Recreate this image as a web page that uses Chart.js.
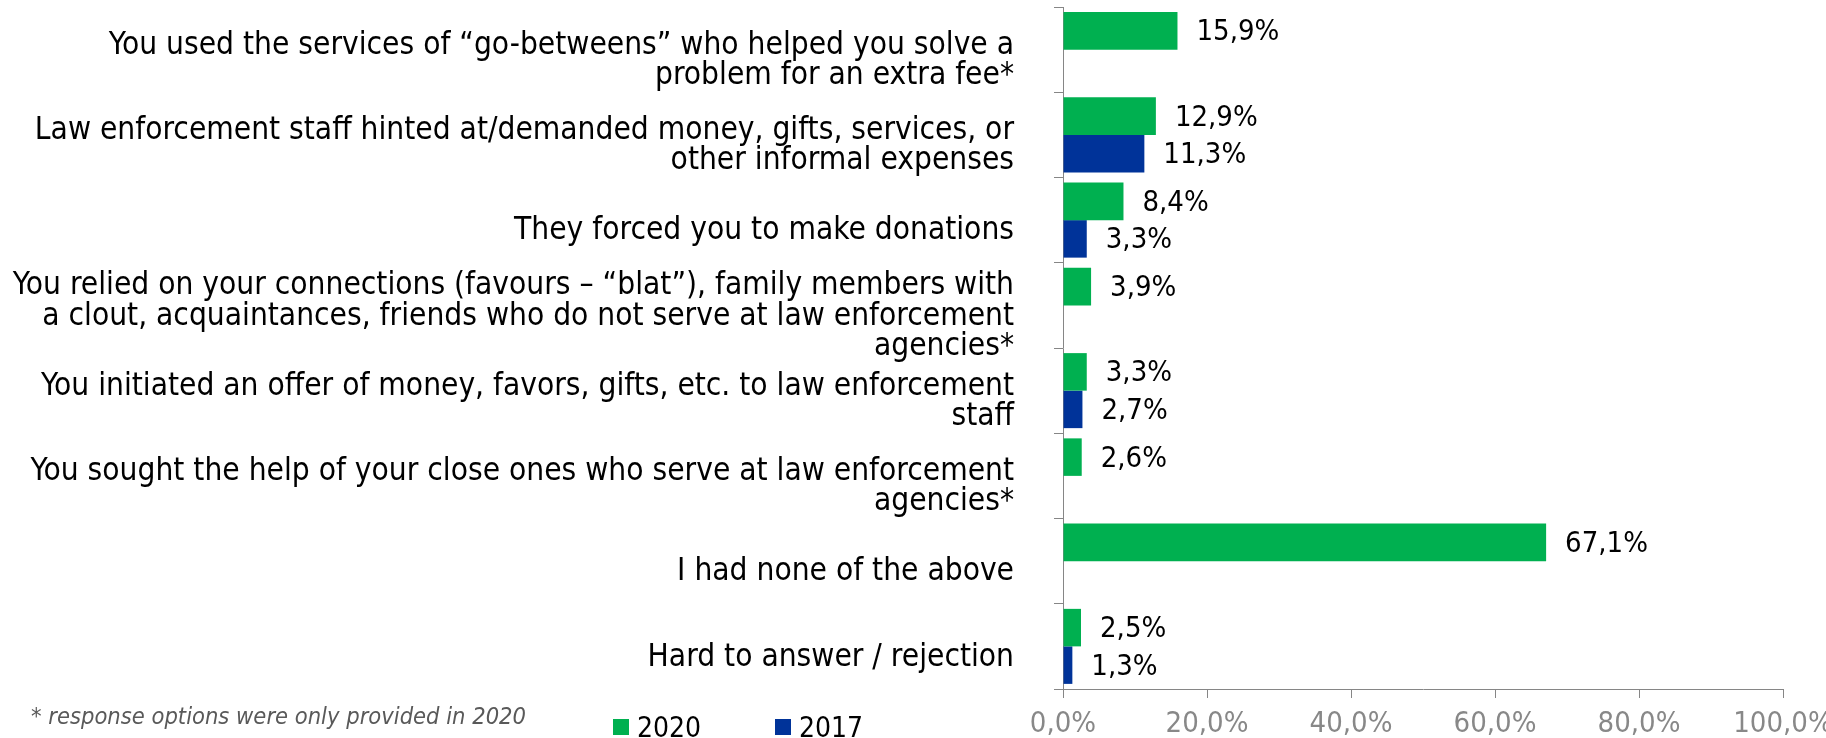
<!DOCTYPE html>
<html>
<head>
<meta charset="utf-8">
<script src="https://cdn.jsdelivr.net/npm/chart.js@4/dist/chart.umd.min.js"></script>
<style>
  html, body { margin: 0; padding: 0; background: #fff; overflow: hidden; }
  #wrap { position: relative; width: 1826px; height: 738px; }
  #chart { position: absolute; left: 0; top: 0; }
  .note {
    position: absolute; left: 31px; top: 702px;
    font: italic 23.5px "DejaVu Sans Condensed", "DejaVu Sans", sans-serif;
    color: #595959; white-space: nowrap;
  }
  .legend-item {
    position: absolute; top: 710px; height: 34px; display: flex; align-items: center;
    font: 28px "DejaVu Sans Condensed", "DejaVu Sans", sans-serif; color: #000;
  }
  .legend-item i { display: inline-block; width: 16px; height: 16px; margin-right: 8px; }
</style>
</head>
<body>
<div id="wrap">
  <canvas id="chart" width="1826" height="738"></canvas>
  <div class="note">* response options were only provided in 2020</div>
</div>
<script>
// Answers, top to bottom; each inner array is one wrapped label
const categories = [
  ["You used the services of \u201cgo-betweens\u201d who helped you solve a", "problem for an extra fee*"],
  ["Law enforcement staff hinted at/demanded money, gifts, services, or", "other informal expenses"],
  "They forced you to make donations",
  ["You relied on your connections (favours \u2013 \u201cblat\u201d), family members with", "a clout, acquaintances, friends who do not serve at law enforcement", "agencies*"],
  ["You initiated an offer of money, favors, gifts, etc. to law enforcement", "staff"],
  ["You sought the help of your close ones who serve at law enforcement", "agencies*"],
  "I had none of the above",
  "Hard to answer / rejection",
];

// Share of respondents, %; null where the option was not asked that year
const values2020 = [15.9, 12.9, 8.4, 3.9, 3.3, 2.6, 67.1, 2.5];
const values2017 = [null, 11.3, 3.3, null, 2.7, null, null, 1.3];

const seriesNames = ["2020", "2017"];
const seriesColors = ["#00b050", "#003399"];

const xTicks = [0, 20, 40, 60, 80, 100];

const FONT = "'DejaVu Sans Condensed', 'DejaVu Sans', sans-serif";
const AXIS_COLOR = "#868686";

const pct = (v) => v.toFixed(1).replace(".", ",") + "%";

// value text to the right of each bar
const barValues = {
  id: "barValues",
  afterDatasetsDraw(chart) {
    const ctx = chart.ctx;
    ctx.save();
    ctx.font = "29px " + FONT;
    ctx.fillStyle = "#000";
    ctx.textAlign = "left";
    ctx.textBaseline = "middle";
    chart.data.datasets.forEach((ds, i) => {
      chart.getDatasetMeta(i).data.forEach((bar, j) => {
        const v = ds.data[j];
        if (v == null) return;
        ctx.fillText(pct(v), bar.x + 19, bar.y + 2);
      });
    });
    ctx.restore();
  },
};

const chart = new Chart(document.getElementById("chart"), {
  type: "bar",
  data: {
    labels: categories,
    datasets: [
      { label: seriesNames[0], data: values2020, backgroundColor: seriesColors[0] },
      { label: seriesNames[1], data: values2017, backgroundColor: seriesColors[1] },
    ],
  },
  options: {
    indexAxis: "y",
    responsive: false,
    animation: false,
    categoryPercentage: 0.88,
    barPercentage: 1.0,
    layout: { padding: { top: 7, left: 0, right: 0, bottom: 0 } },
    plugins: {
      legend: { display: false },
      tooltip: { enabled: false },
    },
    scales: {
      y: {
        grid: {
          display: true,
          drawOnChartArea: false,
          drawTicks: true,
          tickLength: 9,
          color: AXIS_COLOR,
          offset: true,
        },
        border: { display: true, color: AXIS_COLOR, width: 1 },
        ticks: {
          color: "#000",
          font: { family: FONT, size: 31.4, lineHeight: 0.97 },
          padding: 40,
          labelOffset: 11,
          autoSkip: false,
        },
        afterFit(scale) {
          scale.width = 1063;
          scale.paddingTop = 0;
          scale.paddingBottom = 0;
        },
      },
      x: {
        min: xTicks[0],
        max: xTicks[xTicks.length - 1],
        grid: {
          display: true,
          drawOnChartArea: false,
          drawTicks: true,
          tickLength: 9,
          color: AXIS_COLOR,
        },
        border: { display: true, color: AXIS_COLOR, width: 1 },
        afterBuildTicks(scale) {
          scale.ticks = xTicks.map((v) => ({ value: v }));
        },
        ticks: {
          color: "#888",
          font: { family: FONT, size: 29 },
          padding: 9,
          maxRotation: 0,
          callback: (v) => pct(v),
        },
        afterFit(scale) {
          scale.height = 49;
          scale.paddingLeft = 0;
          scale.paddingRight = 43;
        },
      },
    },
  },
  plugins: [barValues],
});

// legend row built from the datasets
const wrap = document.getElementById("wrap");
const legendX = [613, 775];
chart.data.datasets.forEach((ds, i) => {
  const item = document.createElement("div");
  item.className = "legend-item";
  item.style.left = legendX[i] + "px";
  const sw = document.createElement("i");
  sw.style.background = ds.backgroundColor;
  item.appendChild(sw);
  item.appendChild(document.createTextNode(ds.label));
  wrap.appendChild(item);
});
</script>
</body>
</html>
